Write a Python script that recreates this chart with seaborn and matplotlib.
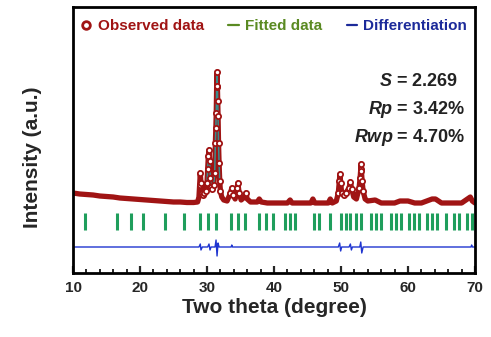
import numpy as np
import pandas as pd
import matplotlib
matplotlib.use("Agg")
import matplotlib.pyplot as plt
from matplotlib.lines import Line2D
from matplotlib.ticker import MultipleLocator
import seaborn as sns

# ---------------- data ----------------
obs_x = [10.0, 11, 12, 13, 14, 15, 16, 17, 18, 19, 20, 21, 22, 23, 24, 25, 26, 27, 28,
         28.6, 28.8, 28.9, 29.0, 29.1, 29.2, 29.4, 29.6, 29.8, 30.0, 30.1, 30.2, 30.3,
         30.4, 30.5, 30.6, 30.8, 31.0, 31.15, 31.25, 31.32, 31.38, 31.44, 31.5, 31.55,
         31.6, 31.65, 31.72, 31.8, 31.9, 32.0, 32.2, 32.5, 33.0, 33.5, 33.7, 33.9, 34.2,
         34.5, 34.6, 34.8, 35.1, 35.6, 35.8, 36.0, 36.5, 37.5, 37.8, 38.1, 39, 40, 41, 42,
         42.4, 42.7, 44, 45.5, 45.8, 46.1, 47, 48.1, 48.4, 48.7, 49.3, 49.6, 49.75, 49.85,
         49.95, 50.1, 50.4, 50.7, 51.2, 51.4, 51.6, 51.9, 52.3, 52.7, 52.85, 52.95, 53.0,
         53.05, 53.15, 53.3, 53.6, 54, 55.1, 56, 57, 58, 58.8, 60, 61, 62, 63.6, 64.1, 65,
         66, 67, 68, 69.3, 69.6, 70]
obs_y = [80, 79, 78.5, 78, 77, 76.5, 76, 75, 74.5, 74, 73.5, 73, 72.5, 72, 71.5, 71, 71, 70.5, 70.5,
         71, 76, 88, 100, 90, 80, 78, 80, 82, 90, 104, 117, 123,
         112, 95, 86, 84, 88, 100, 130, 145, 160, 186, 201, 187,
         172, 157, 130, 110, 92, 82, 76, 73, 72, 80, 85, 78, 74,
         85, 90, 80, 73, 76, 80, 74, 71, 71, 74, 71, 70, 70, 70, 70,
         73, 70, 70, 70, 74, 70, 70, 70, 74, 70, 72, 80, 92, 99,
         90, 80, 78, 80, 85, 91, 84, 76, 74, 85, 95, 104, 109,
         102, 92, 82, 74, 72, 73, 70, 70, 70, 72, 72, 70, 70, 74, 74, 70,
         70, 70, 70, 76, 72, 70]

diff_x = [10, 28.8, 29.0, 29.1, 29.3, 30.1, 30.3, 30.45, 30.6, 31.2, 31.35, 31.5, 31.65, 31.8,
          33.6, 33.7, 33.8, 49.6, 49.8, 49.95, 50.1, 51.2, 51.4, 51.55, 51.7, 52.8,
          52.95, 53.1, 53.3, 69.4, 69.5, 69.6, 70]
diff_y = [26, 26, 29, 23, 26, 26, 29, 23, 26, 26, 33, 17, 30, 26,
          26, 28, 26, 26, 30, 22, 26, 26, 29, 23, 26, 26,
          31, 20, 26, 26, 28, 26, 26]

bragg = [11.8, 16.6, 18.6, 20.4, 23.7, 26.6, 29.0, 30.2, 31.4, 33.6, 34.7, 35.7, 37.8,
         38.8, 39.8, 41.6, 42.4, 43.2, 45.9, 46.7, 48.4, 50.0, 50.7, 51.4, 52.2, 53.0,
         54.5, 55.2, 56.0, 57.4, 58.2, 58.9, 60.2, 60.9, 61.7, 62.9, 63.6, 64.4, 65.6,
         66.8, 67.6, 68.8, 69.5]

x_ticks = [10, 20, 30, 40, 50, 60, 70]
legend_labels = ["Observed data", "Fitted data", "Differentiation"]
stats = [r"$S$ = 2.269", r"$Rp$ = 3.42%", r"$Rwp$ = 4.70%"]

# ---------------- style ----------------
sns.set_style("ticks")
plt.rcParams["font.family"] = ["Liberation Sans", "DejaVu Sans"]
plt.rcParams["font.weight"] = "bold"
plt.rcParams["mathtext.fontset"] = "custom"
plt.rcParams["mathtext.it"] = "Liberation Sans:bold:italic"
plt.rcParams["mathtext.rm"] = "Liberation Sans:bold"

RED = "#a01414"
TEAL = "#3a8c8c"
GREEN = "#1f9e5c"
BLUE = "#1f35d0"

fig = plt.figure(figsize=(4.91, 3.37), dpi=100)
ax = fig.add_axes([73 / 491, 64 / 337, 402 / 491, 266 / 337])

obs = pd.DataFrame({"x": obs_x, "y": obs_y})
dif = pd.DataFrame({"x": diff_x, "y": diff_y})
peaks = obs[(obs.x > 28.5) & (obs.x < 54) & (obs.y >= 78)]
main = obs[(obs.x >= 29.9) & (obs.x <= 31.9)]

# fitted (mostly hidden beneath the observed band)
sns.lineplot(data=obs, x="x", y="y", ax=ax, color=TEAL, lw=1.0, sort=False, zorder=1)
# observed band + circles
sns.lineplot(data=obs, x="x", y="y", ax=ax, color=RED, lw=3.8, sort=False, zorder=2)
sns.lineplot(data=main, x="x", y="y", ax=ax, color=TEAL, lw=1.1, sort=False, zorder=3)
sns.scatterplot(data=peaks, x="x", y="y", ax=ax, marker="o", s=14, facecolor="white",
                edgecolor=RED, linewidth=1.3, zorder=4)
# bragg positions
ax.vlines(bragg, 43, 60, color=GREEN, lw=2.2, zorder=2)
# difference
sns.lineplot(data=dif, x="x", y="y", ax=ax, color=BLUE, lw=1.0, sort=False, zorder=2)

ax.set_xlim(10, 70)
ax.set_ylim(0, 266)
ax.set_xticks(x_ticks)
ax.xaxis.set_minor_locator(MultipleLocator(2))
ax.set_yticks([])
ax.tick_params(axis="x", which="major", direction="in", length=5, width=1.6,
               labelsize=11, pad=6)
ax.tick_params(axis="x", which="minor", direction="in", length=3, width=1.4)
for lab in ax.get_xticklabels():
    lab.set_fontweight("bold")
for sp in ax.spines.values():
    sp.set_linewidth(2.0)
    sp.set_color("black")

ax.set_xlabel("Two theta (degree)", fontsize=15, fontweight="bold", labelpad=2)
ax.set_ylabel("Intensity (a.u.)", fontsize=15, fontweight="bold")
ax.yaxis.set_label_coords(-0.077, 0.436)

handles = [
    Line2D([], [], ls="none", marker="o", mfc="white", mec=RED, mew=2, ms=5.5),
    Line2D([], [], color="#5a8a22", lw=1.6),
    Line2D([], [], color="#1c2a9a", lw=1.6),
]
leg = ax.legend(handles, legend_labels, ncol=3, loc="upper center",
                bbox_to_anchor=(0.5, 1.0), frameon=False, fontsize=11,
                handlelength=0.7, handletextpad=0.4, columnspacing=1.6,
                labelcolor=[RED, "#5a8a22", "#1c2a9a"], borderaxespad=0.4)
for t in leg.get_texts():
    t.set_fontweight("bold")

xr = [0.958, 0.975, 0.975]
for i, s in enumerate(stats):
    ax.text(xr[i], 0.72 - i * 0.105, s, transform=ax.transAxes, ha="right",
            va="center", fontsize=13, fontweight="bold", color="#222222")

fig.savefig("out.png", dpi=100)
